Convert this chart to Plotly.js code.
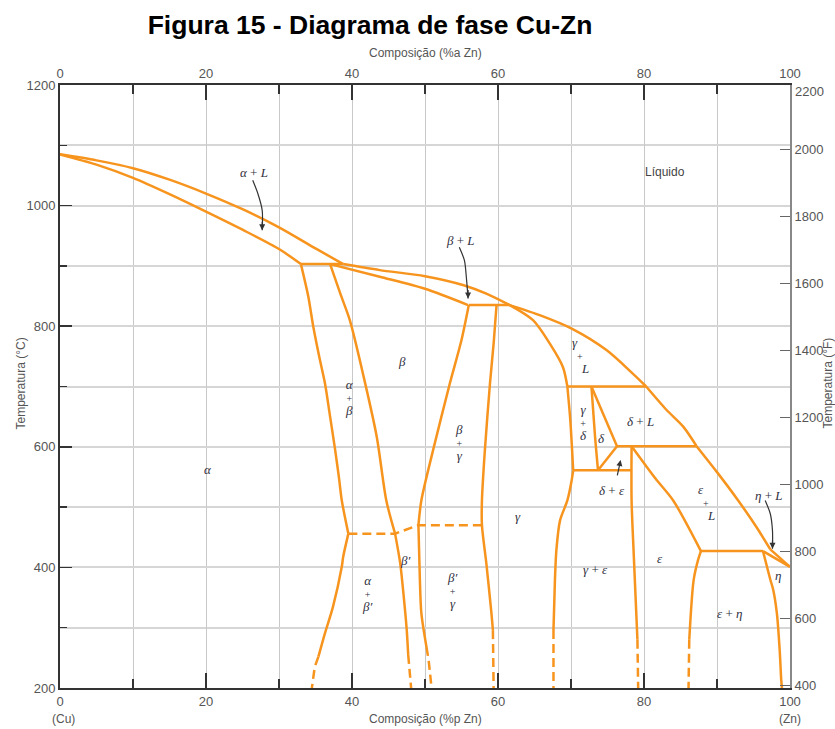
<!DOCTYPE html>
<html>
<head>
<meta charset="utf-8">
<script src="https://cdn.plot.ly/plotly-3.0.1.min.js"></script>
<style>html,body{margin:0;padding:0;background:#fff;}#chart{width:835px;height:729px;}</style>
</head>
<body>
<div id="chart"></div>
<script>
// ---- Phase boundary data: composition (wt% Zn) and temperature (°C) ----
// liquidus segments
const liqAlphaX = [0, 5, 10, 15, 20, 25, 30, 35, 38.8];
const liqAlphaT = [1085, 1075, 1062, 1043, 1020, 994, 964, 929, 903];
const liqBetaX = [38.8, 43.8, 50, 55.3, 58.4, 61.6];
const liqBetaT = [903, 893, 883, 868, 854, 835];
const liqGammaX = [61.6, 65.8, 70.1, 74.9, 78.5, 80.3];
const liqGammaT = [835, 818, 796, 760, 721, 700];
const liqDeltaX = [80.3, 83.1, 85.4, 87.2];
const liqDeltaT = [700, 661, 633, 601];
const liqEpsX = [87.2, 90.0, 92.9, 95.4, 97.3];
const liqEpsT = [601, 558, 511, 467, 430];
const liqEtaX = [97.3, 100];
const liqEtaT = [430, 401];
// solidus / solvus lines
const solAlphaX = [0, 5, 10, 15, 20, 25, 30, 33.0];
const solAlphaT = [1085, 1068, 1046, 1019, 990, 960, 928, 903];
const solBetaX = [37.0, 43.8, 50, 55.9];
const solBetaT = [903, 882, 862, 835];
const alphaUpX = [33.0, 34.0, 34.7, 35.5, 36.3, 37.0, 37.7, 38.2, 38.6, 39.5];
const alphaUpT = [903, 850, 799, 750, 705, 650, 594, 550, 511, 456];
const alphaLoX = [39.5, 38.8, 38.6, 37.4, 36.3, 35.4];
const alphaLoT = [456, 418, 401, 335, 291, 252];
const alphaDashX = [35.4, 34.9, 34.5];
const alphaDashT = [252, 235, 200];
const betaLUpX = [37.0, 38.4, 39.7, 41.6, 43.4, 44.7, 45.9];
const betaLUpT = [903, 854, 810, 716, 616, 511, 456];
const betaLLoX = [45.9, 46.6, 47.1, 47.5, 47.7];
const betaLLoT = [456, 407, 350, 296, 255];
const betaLDashX = [47.7, 48.1];
const betaLDashT = [255, 200];
const betaRUpX = [56.0, 55.0, 53.4, 51.1, 49.5, 49.1];
const betaRUpT = [835, 777, 705, 594, 511, 470];
const betaRLoX = [49.1, 49.3, 49.5, 50.2];
const betaRLoT = [470, 379, 324, 268];
const betaRDashX = [50.2, 50.5, 50.9];
const betaRDashT = [268, 246, 200];
const gamLX = [59.8, 59.4, 58.9, 58.2, 57.8, 57.8, 58.4, 59.1, 59.3];
const gamLT = [835, 771, 705, 594, 511, 470, 407, 324, 296];
const gamLDashX = [59.3, 59.4];
const gamLDashT = [296, 200];
const gamLiqX = [61.6, 64.8, 67.1, 68.9, 69.5];
const gamLiqT = [835, 810, 771, 732, 700];
const gamDeltaX = [69.5, 69.9, 70.3];
const gamDeltaT = [700, 645, 561];
const gamEpsX = [70.3, 70.1, 69.5, 68.5, 68.0, 67.8, 67.6];
const gamEpsT = [561, 545, 511, 478, 429, 379, 296];
const gamEpsDashX = [67.6, 67.6];
const gamEpsDashT = [296, 200];
const deltaLX = [72.8, 73.3, 73.7];
const deltaLT = [700, 616, 561];
const deltaLiqX = [72.8, 76.3];
const deltaLiqT = [700, 601];
const deltaEpsX = [76.3, 73.7];
const deltaEpsT = [601, 561];
const epsLX = [78.3, 78.3, 78.6, 79.1];
const epsLT = [601, 511, 420, 280];
const epsLDashX = [79.1, 79.2];
const epsLDashT = [280, 200];
const epsLiqX = [78.3, 81.6, 84.0, 87.8];
const epsLiqT = [601, 547, 511, 427];
const epsRX = [87.8, 87.4, 86.8, 86.2];
const epsRT = [427, 412, 379, 280];
const epsRDashX = [86.2, 86.1];
const epsRDashT = [280, 200];
const etaSolvX = [96.3, 97.3, 97.7, 98.2, 98.6, 98.8, 98.9];
const etaSolvT = [427, 380, 363, 324, 260, 213, 200];
const etaSolidX = [96.3, 100];
const etaSolidT = [427, 401];
// invariant (horizontal) lines
const isoX = [[33.0, 38.8], [56.0, 61.6], [69.5, 80.3], [76.3, 87.2], [70.3, 78.3], [87.8, 96.3]];
const isoT = [903, 835, 700, 601, 561, 427];
// ordering (dashed) lines
const ordX = [39.5, 45.9, 49.1, 57.8];
const ordT = [456, 456, 470, 470];

// phase labels (single-line)
const labX = [26.6, 54.8, 46.8, 20.3, 74.2, 79.5, 75.6, 62.8, 97.1, 98.4, 82.2, 73.4, 91.7, 47.3];
const labT = [1055, 942, 741, 562, 614, 642, 528, 484, 520, 387, 414, 397, 324, 412];
const labText = ['<i>α</i> + <i>L</i>', '<i>β</i> + <i>L</i>', '<i>β</i>', '<i>α</i>', '<i>δ</i>',
                 '<i>δ</i> + <i>L</i>', '<i>δ</i> + <i>ε</i>', '<i>γ</i>', '<i>η</i> + <i>L</i>', '<i>η</i>',
                 '<i>ε</i>', '<i>γ</i> + <i>ε</i>', '<i>ε</i> + <i>η</i>', '<i>β′</i>'];
// stacked phase labels (top phase, "+", bottom phase)
const stackX = [39.6, 71.3, 71.7, 54.7, 88.6, 53.7, 42.1];
const stackT = [682, 752, 640, 607, 507, 361, 356];
const stackTop = ['α', 'γ', 'γ', 'β', 'ε', 'β′', 'α'];
const stackBot = ['β', 'L', 'δ', 'γ', 'L', 'γ', 'β′'];
const stackSlant = [0, 1, 0, 0, 1, 0, 0];

// pointer arrows (curved)
const arrAX = [26.4, 27.1, 27.7, 27.7];
const arrAT = [1042, 1020, 992, 959];
const arrBX = [54.7, 55.4, 55.7, 55.9];
const arrBT = [931, 909, 876, 846];
const arrEX = [96.6, 97.3, 97.6, 97.6];
const arrET = [511, 489, 461, 431];
const arrDX = [76.3, 76.8];
const arrDT = [550, 578];

// axis ticks
const fTicks = [400, 600, 800, 1000, 1200, 1400, 1600, 1800, 2000];

const ORANGE = '#F7941E';
const LW = 2.5;
const DASH = '9px,5px';
const traces = [];
function addLine(x, y, opts) {
  opts = opts || {};
  traces.push({
    type: 'scatter', mode: 'lines', x: x, y: y, hoverinfo: 'skip', showlegend: false,
    line: {color: opts.color || ORANGE, width: opts.width || LW, dash: opts.dash || 'solid',
           shape: opts.spline ? 'spline' : 'linear', smoothing: opts.spline ? 0.8 : undefined}
  });
}
// curves
[[liqAlphaX, liqAlphaT], [liqBetaX, liqBetaT], [liqGammaX, liqGammaT], [liqDeltaX, liqDeltaT],
 [liqEpsX, liqEpsT], [solAlphaX, solAlphaT], [solBetaX, solBetaT], [alphaUpX, alphaUpT],
 [alphaLoX, alphaLoT], [betaLUpX, betaLUpT], [betaLLoX, betaLLoT], [betaRUpX, betaRUpT],
 [betaRLoX, betaRLoT], [gamLX, gamLT], [gamLiqX, gamLiqT], [gamDeltaX, gamDeltaT],
 [gamEpsX, gamEpsT], [deltaLX, deltaLT], [epsLX, epsLT], [epsLiqX, epsLiqT], [epsRX, epsRT],
 [etaSolvX, etaSolvT]].forEach(p => addLine(p[0], p[1], {spline: true}));
// straight solid
[[liqEtaX, liqEtaT], [deltaLiqX, deltaLiqT], [deltaEpsX, deltaEpsT], [etaSolidX, etaSolidT]]
  .forEach(p => addLine(p[0], p[1]));
isoX.forEach((xx, i) => addLine(xx, [isoT[i], isoT[i]]));
// dashed
[[alphaDashX, alphaDashT], [betaLDashX, betaLDashT], [betaRDashX, betaRDashT], [gamLDashX, gamLDashT],
 [gamEpsDashX, gamEpsDashT], [epsLDashX, epsLDashT], [epsRDashX, epsRDashT], [ordX, ordT]]
  .forEach(p => addLine(p[0], p[1], {dash: DASH}));
// arrow shafts
[[arrAX, arrAT], [arrBX, arrBT], [arrEX, arrET]].forEach(p => addLine(p[0], p[1], {color: '#333', width: 1.2, spline: true}));
// dummy trace for secondary axes
traces.push({type: 'scatter', mode: 'lines', x: [0, 100], y: [392, 2192], xaxis: 'x2', yaxis: 'y2',
             line: {color: 'rgba(0,0,0,0)'}, hoverinfo: 'skip', showlegend: false});

const SERIF = 'Liberation Serif, DejaVu Serif, serif';
const LABC = '#303040';
const annotations = [];
labX.forEach((x, i) => annotations.push({
  x: x, y: labT[i], xref: 'x', yref: 'y', text: labText[i], showarrow: false,
  xanchor: 'center', yanchor: 'middle', font: {family: SERIF, size: 13, color: LABC}
}));
const big = s => '<span style="font-size:13px"><i>' + s + '</i></span>';
stackX.forEach((x, i) => {
  const sl = stackSlant[i];
  const txt = big(stackTop[i]) + '<br>' + (sl ? '&#160;&#160;' : '') + '+<br>' + (sl ? '&#160;&#160;&#160;&#160;' : '') + big(stackBot[i]);
  annotations.push({x: x, y: stackT[i], xref: 'x', yref: 'y', text: txt, showarrow: false,
    xanchor: 'center', yanchor: 'middle', align: sl ? 'left' : 'center',
    font: {family: SERIF, size: 10, color: LABC}});
});
annotations.push({x: 82.9, y: 1055, xref: 'x', yref: 'y', text: 'Líquido', showarrow: false,
  font: {family: 'Liberation Sans Narrow, Liberation Sans, Arial, sans-serif', size: 12, color: '#444'}});
// arrowheads
function head(x, y, ax, ay) {
  annotations.push({x: x, y: y, xref: 'x', yref: 'y', ax: ax, ay: ay, text: '', showarrow: true,
    arrowhead: 2, arrowsize: 1, arrowwidth: 1.2, arrowcolor: '#333', standoff: 0});
}
head(arrAX[3], arrAT[3], 0, -10);
head(arrBX[3], arrBT[3], 0, -10);
head(arrEX[3], arrET[3], 0, -10);
annotations.push({x: arrDX[1], y: arrDT[1], ax: arrDX[0], ay: arrDT[0], xref: 'x', yref: 'y', axref: 'x', ayref: 'y',
  text: '', showarrow: true, arrowhead: 2, arrowsize: 1, arrowwidth: 1.2, arrowcolor: '#333', standoff: 0});

const AXF = {family: 'Liberation Sans Narrow, Liberation Sans, Arial, sans-serif', size: 12, color: '#555'};
function paperText(x, y, xs, ys, text, extra) {
  annotations.push(Object.assign({x: x, y: y, xref: 'paper', yref: 'paper', xshift: xs, yshift: ys, text: text,
    showarrow: false, xanchor: 'center', yanchor: 'middle', font: AXF}, extra || {}));
}
paperText(0.5, 1, 0, 32, 'Composição (%a Zn)');
paperText(0.5, 0, 0, -31, 'Composição (%p Zn)');
paperText(0, 0, 3, -31, '(Cu)');
paperText(1, 0, 0, -31, '(Zn)');
paperText(0, 0.5, -40, 3, 'Temperatura (°C)', {textangle: -90});
paperText(1, 0.5, 37, 3, 'Temperatura (°F)', {textangle: -90});
paperText(1, 1, 3, -6, '2200', {xanchor: 'left', font: {family: AXF.family, size: 13, color: '#555'}});

const TF = {family: 'Liberation Sans Narrow, Liberation Sans, Arial, sans-serif', size: 13, color: '#555'};
const layout = {
  width: 835, height: 729,
  margin: {l: 60, r: 45, t: 85, b: 41, pad: 0},
  paper_bgcolor: '#fff', plot_bgcolor: '#fff',
  showlegend: false,
  title: {text: '<b>Figura 15 - Diagrama de fase Cu-Zn</b>', font: {family: 'Liberation Sans, Arial, sans-serif', size: 26.5, color: '#000'},
          x: 370 / 835, xref: 'container', xanchor: 'center', y: 1 - 25 / 729, yref: 'container', yanchor: 'middle'},
  xaxis: {range: [0, 100], tick0: 0, dtick: 20, ticks: 'inside', ticklen: 15, tickwidth: 1.5, tickcolor: '#333',
          showline: true, linecolor: '#333', linewidth: 2, showgrid: true, gridcolor: '#c8c8c8', gridwidth: 1,
          zeroline: false, tickfont: TF, fixedrange: true,
          minor: {dtick: 10, ticks: 'inside', ticklen: 9, tickcolor: '#333', tickwidth: 1.5, showgrid: true, gridcolor: '#c8c8c8', gridwidth: 1}},
  xaxis2: {range: [0, 100], overlaying: 'x', side: 'top', anchor: 'y', tick0: 0, dtick: 20, ticks: 'inside', ticklen: 15,
           tickwidth: 1.5, tickcolor: '#333', showline: true, linecolor: '#333', linewidth: 2, showgrid: false,
           zeroline: false, tickfont: TF, fixedrange: true,
           minor: {dtick: 10, ticks: 'inside', ticklen: 9, tickcolor: '#333', tickwidth: 1.5, showgrid: false}},
  yaxis: {range: [200, 1200], tick0: 200, dtick: 200, ticks: 'inside', ticklen: 12, tickwidth: 1.5, tickcolor: '#333',
          showline: true, linecolor: '#333', linewidth: 2, showgrid: true, gridcolor: '#d6d6d6', gridwidth: 2,
          zeroline: false, tickfont: TF, fixedrange: true,
          minor: {dtick: 100, ticks: 'inside', ticklen: 7, tickcolor: '#333', tickwidth: 1.5, showgrid: true, gridcolor: '#d6d6d6', gridwidth: 2}},
  yaxis2: {range: [392, 2192], overlaying: 'y', side: 'right', anchor: 'x', tickvals: fTicks, ticks: 'inside', ticklen: 10,
           tickwidth: 1.5, tickcolor: '#666', showline: true, linecolor: '#888', linewidth: 2, showgrid: false,
           zeroline: false, tickfont: TF, fixedrange: true},
  annotations: annotations
};
Plotly.newPlot('chart', traces, layout, {staticPlot: true, displayModeBar: false});
</script>
</body>
</html>
